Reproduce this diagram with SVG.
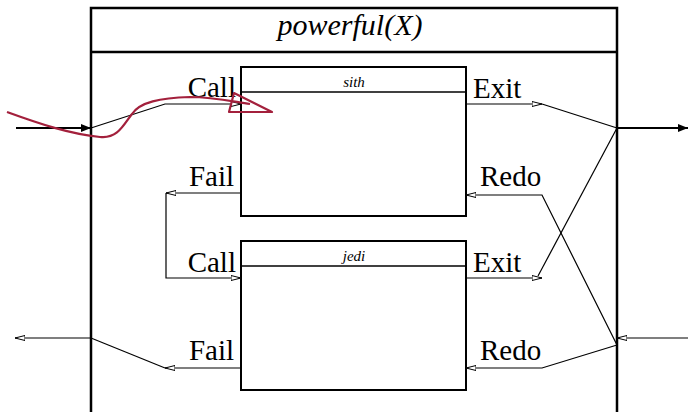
<svg xmlns="http://www.w3.org/2000/svg" width="689" height="412" viewBox="0 0 689 412">
<style>
.box{fill:none;stroke:#000;stroke-width:2.5}
.ibox{fill:none;stroke:#000;stroke-width:2}
.hdr{stroke:#000;stroke-width:1.5}
.c{fill:none;stroke:#000;stroke-width:1.2}
.thick{fill:none;stroke:#000;stroke-width:2}
.port{font-family:"Liberation Serif",serif;font-size:29px;fill:#000}
.title{font-family:"Liberation Serif",serif;font-style:italic;font-size:30px;fill:#000}
.name{font-family:"Liberation Serif",serif;font-style:italic;font-size:15px;fill:#000}
.red{fill:none;stroke:#a3203c;stroke-width:2.2;stroke-linejoin:round}
</style>
<defs>
<marker id="open" viewBox="0 0 10 6" refX="10" refY="3" markerWidth="10" markerHeight="6" markerUnits="userSpaceOnUse" orient="auto">
<path d="M0,0.5 L10,3 L0,5.5 Z" fill="#fff" stroke="#000" stroke-width="1"/>
</marker>
<marker id="solid" viewBox="0 0 10 8" refX="10" refY="4" markerWidth="10" markerHeight="8" markerUnits="userSpaceOnUse" orient="auto">
<path d="M0,0 L10,4 L0,8 Z" fill="#000"/>
</marker>
</defs>
<rect width="689" height="412" fill="#fff"/>
<g id="powerful">
<path class="box" d="M91,414 L91,8 L617,8 L617,414"/>
<line class="box" x1="91" y1="52" x2="617" y2="52"/>
<text class="title" x="350" y="35" text-anchor="middle">powerful(X)</text>
</g>
<g id="sith">
<rect class="ibox" x="241" y="67" width="225" height="149"/>
<line class="hdr" x1="241" y1="92" x2="466" y2="92"/>
<text class="name" x="354" y="87" text-anchor="middle">sith</text>
<text class="port" x="236" y="97" text-anchor="end">Call</text>
<text class="port" x="234" y="186" text-anchor="end">Fail</text>
<text class="port" x="473" y="98">Exit</text>
<text class="port" x="480" y="186">Redo</text>
</g>
<g id="jedi">
<rect class="ibox" x="241" y="241" width="225" height="149"/>
<line class="hdr" x1="241" y1="266" x2="466" y2="266"/>
<text class="name" x="354" y="261" text-anchor="middle">jedi</text>
<text class="port" x="236" y="272" text-anchor="end">Call</text>
<text class="port" x="234" y="360" text-anchor="end">Fail</text>
<text class="port" x="473" y="272">Exit</text>
<text class="port" x="480" y="360">Redo</text>
</g>
<g id="connectors">
<line class="thick" x1="16" y1="128" x2="91" y2="128" marker-end="url(#solid)"/>
<polyline class="c" points="91,128 165,104 241,104" marker-end="url(#open)"/>
<polyline class="c" points="241,193 166,193" marker-end="url(#open)"/>
<polyline class="c" points="166,193 166,278 241,278" marker-end="url(#open)"/>
<line class="c" x1="466" y1="104" x2="542" y2="104" marker-end="url(#open)"/>
<line class="c" x1="542" y1="104" x2="617" y2="128"/>
<line class="thick" x1="617" y1="128" x2="688" y2="128" marker-end="url(#solid)"/>
<line class="c" x1="617" y1="128" x2="538" y2="276"/>
<line class="c" x1="466" y1="278" x2="542" y2="278" marker-end="url(#open)"/>
<polyline class="c" points="617,345 542,195 466,195" marker-end="url(#open)"/>
<line class="c" x1="688" y1="338" x2="617" y2="338" marker-end="url(#open)"/>
<polyline class="c" points="617,345 542,368 466,368" marker-end="url(#open)"/>
<line class="c" x1="241" y1="368" x2="165" y2="368" marker-end="url(#open)"/>
<line class="c" x1="165" y1="368" x2="91" y2="338"/>
<line class="c" x1="91" y1="338" x2="15" y2="338" marker-end="url(#open)"/>
</g>
<g id="annotation">
<path class="red" d="M7,112 C40,124 70,134 100,137 C118,139 124,124 132,114 C140,102 160,98 190,97 C212,97 230,101 250,104"/>
<path class="red" d="M234,93 L272,112 L229,112 Z"/>
</g>
</svg>
